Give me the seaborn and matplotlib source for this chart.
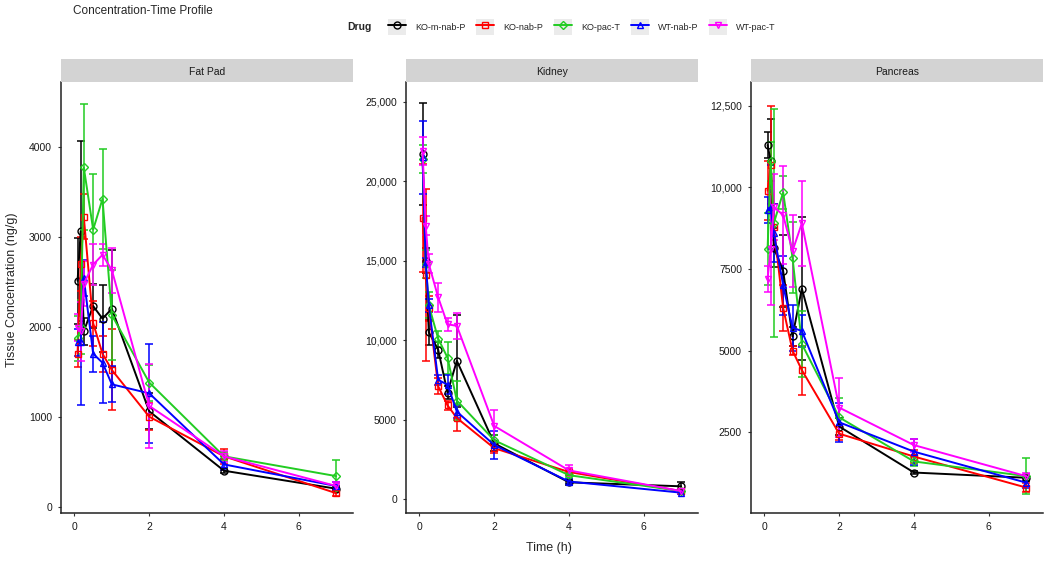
import matplotlib

matplotlib.use("Agg")

import matplotlib.pyplot as plt
import numpy as np
import pandas as pd
import seaborn as sns
from matplotlib.legend_handler import HandlerTuple
from matplotlib.lines import Line2D
from matplotlib.patches import Rectangle
from matplotlib.ticker import FuncFormatter


TIMES = [0.083, 0.167, 0.25, 0.5, 0.75, 1, 2, 4, 7]
DRUGS = ["KO-m-nab-P", "KO-nab-P", "KO-pac-T", "WT-nab-P", "WT-pac-T"]
TISSUES = ["Fat Pad", "Kidney", "Pancreas"]

# Fat Pad, mean and SD (ng/g)
fat_mean = {
    "KO-m-nab-P": [2510, 3060, 1950, 2230, 2090, 2200, 1060, 400, 200],
    "KO-nab-P": [1700, 2700, 3220, 2040, 1700, 1520, 1000, 560, 150],
    "KO-pac-T": [1870, 2000, 3770, 3080, 3420, 2130, 1380, 560, 340],
    "WT-nab-P": [1830, 1830, 2540, 1700, 1600, 1360, 1260, 470, 230],
    "WT-pac-T": [1990, 1950, 2480, 2690, 2800, 2630, 1120, 560, 230],
}
fat_sd = {
    "KO-m-nab-P": [480, 1000, 150, 240, 370, 650, 200, 30, 30],
    "KO-nab-P": [150, 300, 250, 250, 200, 450, 150, 80, 30],
    "KO-pac-T": [250, 300, 700, 620, 560, 500, 200, 50, 180],
    "WT-nab-P": [150, 700, 200, 200, 450, 200, 550, 60, 40],
    "WT-pac-T": [150, 330, 250, 230, 120, 250, 470, 60, 40],
}

# Kidney
kidney_mean = {
    "KO-m-nab-P": [21700, 15000, 10500, 9400, 6700, 8700, 3500, 1050, 800],
    "KO-nab-P": [17700, 14100, 12000, 7100, 5900, 5100, 3200, 1700, 500],
    "KO-pac-T": [21400, 14800, 12200, 10100, 8900, 6200, 3700, 1500, 500],
    "WT-nab-P": [21500, 14900, 12200, 7500, 7200, 5500, 3400, 1100, 400],
    "WT-pac-T": [21900, 17200, 14800, 12700, 11000, 10900, 4600, 1800, 500],
}
kidney_sd = {
    "KO-m-nab-P": [3200, 800, 800, 500, 400, 2900, 500, 150, 300],
    "KO-nab-P": [3400, 5400, 800, 500, 300, 800, 300, 200, 100],
    "KO-pac-T": [900, 900, 800, 500, 1000, 1200, 300, 150, 100],
    "WT-nab-P": [2300, 300, 400, 300, 600, 400, 900, 150, 100],
    "WT-pac-T": [900, 600, 600, 900, 400, 800, 1000, 350, 100],
}

# Pancreas
pancreas_mean = {
    "KO-m-nab-P": [11300, 10800, 8150, 7440, 5430, 6900, 2670, 1260, 1100],
    "KO-nab-P": [9900, 10700, 8800, 6300, 5000, 4400, 2450, 1750, 800],
    "KO-pac-T": [8100, 10800, 8900, 9850, 7850, 5200, 2950, 1600, 1150],
    "WT-nab-P": [9300, 9400, 8600, 7000, 5700, 5600, 2800, 1900, 950],
    "WT-pac-T": [7200, 8100, 9400, 9150, 8050, 8900, 3250, 2100, 1150],
}
pancreas_sd = {
    "KO-m-nab-P": [400, 1300, 600, 1100, 300, 2200, 250, 50, 100],
    "KO-nab-P": [900, 1800, 700, 700, 150, 750, 200, 200, 150],
    "KO-pac-T": [1100, 600, 3500, 500, 1100, 1000, 600, 150, 550],
    "WT-nab-P": [400, 1300, 900, 900, 700, 500, 600, 400, 150],
    "WT-pac-T": [400, 1700, 1000, 1500, 1100, 1300, 900, 200, 100],
}

COLORS = {
    "KO-m-nab-P": "#000000",
    "KO-nab-P": "#FF0000",
    "KO-pac-T": "#22CC22",
    "WT-nab-P": "#0000FF",
    "WT-pac-T": "#FF00FF",
}
MARKERS = {
    "KO-m-nab-P": "o",
    "KO-nab-P": "s",
    "KO-pac-T": "D",
    "WT-nab-P": "^",
    "WT-pac-T": "v",
}
MARKER_SIZE = {"o": 5, "s": 4.5, "D": 4, "^": 5, "v": 5}

Y_LIMITS = {"Fat Pad": (-70, 4720), "Kidney": (-880, 26250), "Pancreas": (20, 13230)}
Y_TICKS = {
    "Fat Pad": [0, 1000, 2000, 3000, 4000],
    "Kidney": [0, 5000, 10000, 15000, 20000, 25000],
    "Pancreas": [2500, 5000, 7500, 10000, 12500],
}


def _long_frame(tissue, means, sds):
    rows = []
    for drug in DRUGS:
        for t, m, s in zip(TIMES, means[drug], sds[drug]):
            rows.append({"tissue": tissue, "drug": drug, "time": t, "conc": m, "sd": s})
    return pd.DataFrame(rows)


data = pd.concat(
    [
        _long_frame("Fat Pad", fat_mean, fat_sd),
        _long_frame("Kidney", kidney_mean, kidney_sd),
        _long_frame("Pancreas", pancreas_mean, pancreas_sd),
    ],
    ignore_index=True,
)


def _tick_fmt(v, _pos):
    v = int(round(v))
    return f"{v:,}" if v >= 10000 else f"{v}"


sns.set_theme(style="white")
plt.rcParams["font.family"] = ["Liberation Sans", "DejaVu Sans"]

W, H = 1050, 561
fig = plt.figure(figsize=(W / 100, H / 100), dpi=100)

panel_left = [61, 406, 751]
panel_width = 292
top_px, bottom_px = 82, 513
strip_h = 23

for tissue, left in zip(TISSUES, panel_left):
    ax = fig.add_axes([left / W, (H - bottom_px) / H, panel_width / W, (bottom_px - top_px) / H])
    sub = data[data["tissue"] == tissue]
    for drug in DRUGS:
        d = sub[sub["drug"] == drug]
        c = COLORS[drug]
        ax.errorbar(d["time"], d["conc"], yerr=d["sd"], fmt="none", ecolor=c,
                    elinewidth=1.1, capsize=3, capthick=1.1, zorder=2)
        sns.lineplot(data=d, x="time", y="conc", color=c, marker=MARKERS[drug],
                     markersize=MARKER_SIZE[MARKERS[drug]], mfc="none", mec=c, mew=1,
                     linewidth=1.4, errorbar=None, ax=ax, zorder=3)

    ax.set_xlim(-0.36, 7.45)
    ax.set_ylim(*Y_LIMITS[tissue])
    ax.set_xticks([0, 2, 4, 6])
    ax.set_yticks(Y_TICKS[tissue])
    ax.yaxis.set_major_formatter(FuncFormatter(_tick_fmt))
    ax.set_xlabel("")
    ax.set_ylabel("")
    ax.tick_params(axis="both", labelsize=7.5, length=2.5, width=0.8, colors="#333333",
                   labelcolor="#1a1a1a", pad=4, direction="out", bottom=True, left=True)
    for side in ["top", "right"]:
        ax.spines[side].set_visible(False)
    for side in ["left", "bottom"]:
        ax.spines[side].set_color("#222222")
        ax.spines[side].set_linewidth(1.1)
    ax.set_facecolor("white")

    strip = fig.add_axes([left / W, (H - top_px) / H, panel_width / W, strip_h / H])
    strip.set_facecolor("#D3D3D3")
    strip.set_xticks([])
    strip.set_yticks([])
    for s in strip.spines.values():
        s.set_visible(False)
    strip.text(0.5, 0.45, tissue, ha="center", va="center", fontsize=7.5, color="#1a1a1a",
               transform=strip.transAxes)

fig.text(73 / W, 1 - 11 / H, "Concentration-Time Profile", ha="left", va="center", fontsize=8.5)
fig.text(12 / W, 1 - 290 / H, "Tissue Concentration (ng/g)", rotation=90, ha="center",
         va="center", fontsize=9)
fig.text(549 / W, 1 - 548 / H, "Time (h)", ha="center", va="center", fontsize=9)
fig.text(347 / W, 1 - 27 / H, "Drug", ha="left", va="center", fontsize=7.5, fontweight="bold")

handles = []
for drug in DRUGS:
    c = COLORS[drug]
    key_bg = Rectangle((0, 0), 1, 1, facecolor="#EBEBEB", edgecolor="none")
    key_line = Line2D([], [], color=c, linewidth=1.4, marker=MARKERS[drug],
                      markersize=MARKER_SIZE[MARKERS[drug]], mfc="none", mec=c, mew=1)
    handles.append((key_bg, key_line))

fig.legend(handles, DRUGS, handler_map={tuple: HandlerTuple(ndivide=1, pad=0)},
           loc="center left", bbox_to_anchor=(388 / W, 1 - 27 / H), ncol=5, frameon=False,
           fontsize=6.5, handlelength=2.0, handleheight=2.2, handletextpad=1.0,
           columnspacing=1.2, borderpad=0, borderaxespad=0)

fig.savefig("out.png", dpi=100)
